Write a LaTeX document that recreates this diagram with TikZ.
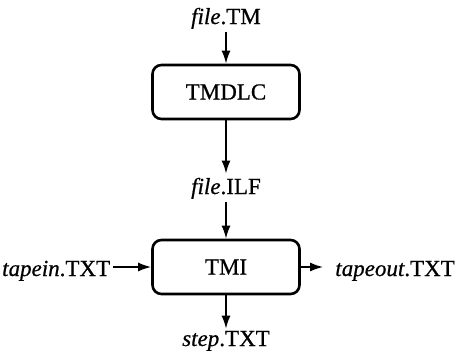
\documentclass[tikz,border=0pt]{standalone}
\usepackage{fontspec}
\setmainfont{Liberation Serif}[BoldFont={Liberation Serif},BoldItalicFont={Liberation Serif Italic},BoldFeatures={FakeBold=0.6},BoldItalicFeatures={FakeBold=0.6}]
\usetikzlibrary{arrows.meta}
\begin{document}
\begin{tikzpicture}[x=1pt,y=1pt,
  proc/.style={draw,line width=2.6pt,rounded corners=9pt,minimum width=147pt,minimum height=54pt,font=\fontsize{23}{25}\selectfont\bfseries,inner sep=0pt},
  lbl/.style={font=\fontsize{23}{25}\selectfont\bfseries,inner sep=0pt,anchor=base},
  flow/.style={line width=1.8pt,-{Latex[length=13pt,width=9pt]}}]
\useasboundingbox (0,0) rectangle (455,-354);
\node[lbl] (ftm) at (226,-24) {\textit{file}.TM};
\node[proc] (dlc) at (226,-92) {TMDLC};
\node[lbl] (filf) at (226,-194) {\textit{file}.ILF};
\node[proc] (tmi) at (226,-267) {TMI};
\node[lbl,anchor=base west] (tin) at (2,-276) {\textit{tapein}.TXT};
\node[lbl,anchor=base east] (tout) at (455,-276) {\textit{tapeout}.TXT};
\node[lbl] (stp) at (226,-346) {\textit{step}.TXT};
\draw[flow] ([yshift=-3pt]ftm.south) -- (ftm.south |- dlc.north);
\draw[flow] (dlc.south) -- ([yshift=4pt]dlc.south |- filf.north);
\draw[flow] ([yshift=-3pt]filf.south) -- (filf.south |- tmi.north);
\draw[flow] ([xshift=3pt]tin.east |- tmi.west) -- (tmi.west);
\draw[flow] (tmi.east) -- ([xshift=-12pt]tout.west |- tmi.east);
\draw[flow] (tmi.south) -- ([yshift=2pt]tmi.south |- stp.north);
\end{tikzpicture}
\end{document}
